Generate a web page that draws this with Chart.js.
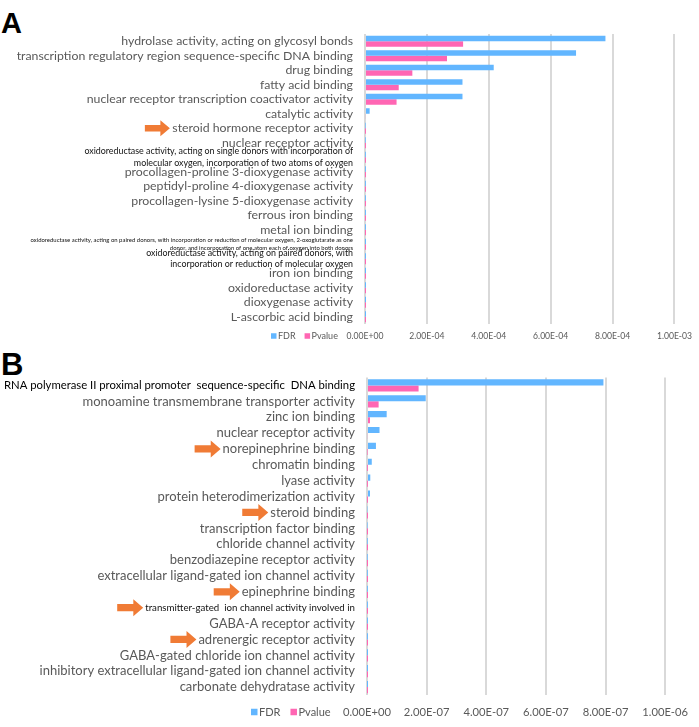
<!DOCTYPE html>
<html>
<head>
<meta charset="utf-8">
<script src="https://cdn.jsdelivr.net/npm/chart.js@4.4.1/dist/chart.umd.min.js"></script>
<style>
  body { margin: 0; background: #fff; width: 699px; height: 727px; position: relative; overflow: hidden; }
  canvas { position: absolute; left: 0; }
  #chartA { top: 0; }
  #chartB { top: 345px; }
  .panel { position: absolute; left: 1px; font-family: "Liberation Sans", Arial, sans-serif; font-weight: bold; color: #000; }
</style>
</head>
<body>
<div class="panel" style="top:7px;font-size:29px;">A</div>
<div class="panel" style="top:347px;font-size:31px;">B</div>
<canvas id="chartA" width="699" height="345"></canvas>
<canvas id="chartB" width="699" height="382"></canvas>
<script>
// ---- panel A data ----
const aLabels = [
    'hydrolase activity, acting on glycosyl bonds',
    'transcription regulatory region sequence-specific DNA binding',
    'drug binding',
    'fatty acid binding',
    'nuclear receptor transcription coactivator activity',
    'catalytic activity',
    'steroid hormone receptor activity',
    'nuclear receptor activity',
    ['oxidoreductase activity, acting on single donors with incorporation of', 'molecular oxygen, incorporation of two atoms of oxygen'],
    'procollagen-proline 3-dioxygenase activity',
    'peptidyl-proline 4-dioxygenase activity',
    'procollagen-lysine 5-dioxygenase activity',
    'ferrous iron binding',
    'metal ion binding',
    ['oxidoreductase activity, acting on paired donors, with incorporation or reduction of molecular oxygen, 2-oxoglutarate as one', 'donor, and incorporation of one atom each of oxygen into both donors'],
    ['oxidoreductase activity, acting on paired donors, with', 'incorporation or reduction of molecular oxygen'],
    'iron ion binding',
    'oxidoreductase activity',
    'dioxygenase activity',
    'L-ascorbic acid binding'
];
const aFdr = [7.77e-4, 6.82e-4, 4.16e-4, 3.15e-4, 3.15e-4, 1.5e-5, 1.2e-6, 9e-7, 6e-7, 5e-7, 5e-7, 5e-7, 4e-7, 3e-7, 2e-7, 2e-7, 1e-7, 8e-8, 5e-8, 3e-8];
const aPvalue = [3.17e-4, 2.65e-4, 1.53e-4, 1.09e-4, 1.02e-4, 3e-6, 2e-7, 1.5e-7, 1e-7, 7e-8, 6e-8, 6e-8, 4e-8, 3e-8, 2e-8, 1.5e-8, 8e-9, 5e-9, 3e-9, 1e-9];
const aTickLabels = ['0.00E+00', '2.00E-04', '4.00E-04', '6.00E-04', '8.00E-04', '1.00E-03'];

// ---- panel B data ----
const bLabels = [
    'RNA polymerase II proximal promoter  sequence-specific  DNA binding',
    'monoamine transmembrane transporter activity',
    'zinc ion binding',
    'nuclear receptor activity',
    'norepinephrine binding',
    'chromatin binding',
    'lyase activity',
    'protein heterodimerization activity',
    'steroid binding',
    'transcription factor binding',
    'chloride channel activity',
    'benzodiazepine receptor activity',
    'extracellular ligand-gated ion channel activity',
    'epinephrine binding',
    'transmitter-gated  ion channel activity involved in',
    'GABA-A receptor activity',
    'adrenergic receptor activity',
    'GABA-gated chloride ion channel activity',
    'inhibitory extracellular ligand-gated ion channel activity',
    'carbonate dehydratase activity'
];
const bFdr = [7.93e-7, 1.97e-7, 6.6e-8, 4.2e-8, 3.0e-8, 1.6e-8, 1.1e-8, 1.0e-8, 2e-9, 1.5e-9, 1e-9, 1e-9, 8e-10, 6e-10, 5e-10, 4e-10, 3e-10, 2e-10, 1e-10, 5e-11];
const bPvalue = [1.73e-7, 3.9e-8, 1.0e-8, 3e-9, 1.5e-9, 6e-10, 4e-10, 3e-10, 1e-10, 8e-11, 5e-11, 4e-11, 3e-11, 2e-11, 1e-11, 8e-12, 5e-12, 3e-12, 2e-12, 1e-12];
const bTickLabels = ['0.00E+00', '2.00E-07', '4.00E-07', '6.00E-07', '8.00E-07', '1.00E-06'];

const FONT = 'Lato, "Open Sans", sans-serif';
const GRAY = '#595959';
const BLUE = '#62B6FF';
const PINK = '#FF66B3';
const ORANGE = '#F07B35';

// label styles (size, colour) for the odd labels
const aLabelStyle = { 8: [8.9, '#111'], 14: [5.95, '#111'], 15: [8.85, '#111'] };
const bLabelStyle = { 0: [11.3, '#000'], 14: [9.7, '#111'] };

function labelFont(o, i) {
    return o.styles[i] ? o.styles[i][0] : o.labelSize;
}

// legend next to the x tick labels
const sideLegend = {
    id: 'sideLegend',
    afterDraw(chart, args, opts) {
        const ctx = chart.ctx;
        const y = opts.y;
        ctx.save();
        ctx.font = opts.size + 'px ' + FONT;
        ctx.textBaseline = 'middle';
        let x = opts.x;
        chart.data.datasets.forEach(ds => {
            ctx.fillStyle = ds.backgroundColor;
            ctx.fillRect(x, y - opts.box / 2, opts.box, opts.box);
            x += opts.box + 1.5;
            ctx.fillStyle = GRAY;
            ctx.fillText(ds.label, x, y);
            x += ctx.measureText(ds.label).width + opts.gap;
        });
        ctx.restore();
    }
};

// orange arrows pointing at some category labels
const labelArrows = {
    id: 'labelArrows',
    afterDraw(chart, args, opts) {
        const ctx = chart.ctx;
        const ys = chart.scales.y;
        const right = ys.right - opts.pad;
        ctx.save();
        ctx.fillStyle = ORANGE;
        opts.items.forEach((i, k) => {
            ctx.font = opts.sizes[k] + 'px ' + FONT;
            const text = chart.data.labels[i];
            const left = right - ctx.measureText(text).width;
            const tip = left - opts.gap;
            const yc = ys.getPixelForTick(i);
            const w = opts.w, h = opts.h, head = w * 0.38, sh = h * 0.42;
            ctx.beginPath();
            ctx.moveTo(tip - w, yc - sh / 2);
            ctx.lineTo(tip - head, yc - sh / 2);
            ctx.lineTo(tip - head, yc - h / 2);
            ctx.lineTo(tip, yc);
            ctx.lineTo(tip - head, yc + h / 2);
            ctx.lineTo(tip - head, yc + sh / 2);
            ctx.lineTo(tip - w, yc + sh / 2);
            ctx.closePath();
            ctx.fill();
        });
        ctx.restore();
    }
};

function makeChart(id, labels, fdr, pvalue, tickLabels, o) {
    o.arrows.pad = 12;
    o.arrows.sizes = o.arrows.items.map(i => labelFont(o, i));
    return new Chart(document.getElementById(id), {
        type: 'bar',
        data: {
            labels: labels,
            datasets: [
                { label: 'FDR', data: fdr, backgroundColor: BLUE, barPercentage: 1, categoryPercentage: 0.77 },
                { label: 'Pvalue', data: pvalue, backgroundColor: PINK, barPercentage: 1, categoryPercentage: 0.77 }
            ]
        },
        options: {
            indexAxis: 'y',
            responsive: false,
            animation: false,
            devicePixelRatio: 1,
            layout: { padding: { top: o.top, right: 23, left: 0, bottom: 0 } },
            scales: {
                x: {
                    min: 0,
                    max: o.max,
                    ticks: {
                        stepSize: o.max / 5,
                        maxRotation: 0,
                        padding: o.tickPad,
                        color: GRAY,
                        font: { size: o.tickSize, family: FONT },
                        callback: (v, i) => tickLabels[i]
                    },
                    grid: { color: '#d9d9d9', lineWidth: 2, drawTicks: false },
                    border: { display: false },
                    afterFit: s => { s.height = o.xHeight; }
                },
                y: {
                    ticks: {
                        autoSkip: false,
                        padding: 12,
                        color: ctx => (o.styles[ctx.index] ? o.styles[ctx.index][1] : GRAY),
                        font: ctx => ({ size: labelFont(o, ctx.index), family: FONT, lineHeight: 1.3 })
                    },
                    grid: { display: false, drawTicks: false },
                    border: { display: false },
                    afterFit: s => { s.width = o.yWidth; }
                }
            },
            plugins: {
                legend: { display: false },
                tooltip: { enabled: false },
                sideLegend: o.legend,
                labelArrows: o.arrows
            }
        },
        plugins: [sideLegend, labelArrows]
    });
}

makeChart('chartA', aLabels, aFdr, aPvalue, aTickLabels, {
    max: 1e-3, top: 34, xHeight: 21, yWidth: 365, tickPad: 7, tickSize: 8.6,
    labelSize: 12.3, styles: aLabelStyle,
    legend: { x: 271, y: 336, size: 9, box: 5.5, gap: 9 },
    arrows: { items: [6], w: 25, h: 16, gap: 2.5 }
});

makeChart('chartB', bLabels, bFdr, bPvalue, bTickLabels, {
    max: 1e-6, top: 32.5, xHeight: 32, yWidth: 367, tickPad: 11, tickSize: 11.2,
    labelSize: 13.0, styles: bLabelStyle,
    legend: { x: 251, y: 367, size: 11, box: 6.5, gap: 10 },
    arrows: { items: [4, 8, 13, 14, 16], w: 26, h: 17, gap: 2 }
});
</script>
</body>
</html>
